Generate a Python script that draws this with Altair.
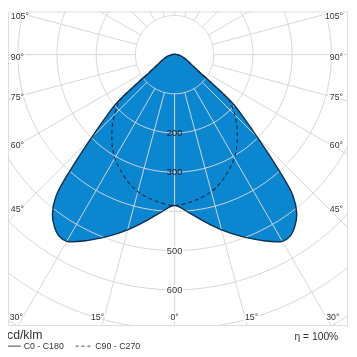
import altair as alt
import pandas as pd

# ---- data (cd/klm) ----
GAMMA = [0, 5, 10, 15, 20, 25, 30, 32.5, 35, 37.5, 40, 42.5, 45, 47.5, 50,
         52.5, 55, 60, 65, 70, 80, 90, 120, 150, 180]
C0_C180 = [385, 404, 432, 463, 493, 523, 550, 549, 535, 512, 470, 380, 300, 241, 195,
           118, 78, 48, 36, 27, 15, 7, 2, 1, 1]
C90_C270 = [385, 380, 372, 362, 346, 326, 305, 292, 278, 263, 248, 233, 217, 200, 182,
            115, 76, 47, 35, 26, 14, 7, 2, 1, 1]

CIRCLE_RADII = [100, 200, 300, 400, 500, 600, 700, 800]
RADIAL_ANGLES = list(range(0, 360, 15))
CIRCLE_LABELS_IN = [200, 300]
CIRCLE_LABELS_OUT = [500, 600]
ANGLE_LABELS = [0, 15, 30, 45, 60, 75, 90, 105]
LEGEND_LABELS = ["C0 - C180", "C90 - C270"]
UNIT_LABEL = "cd/klm"
EFF_LABEL = "η = 100%"

BLUE = "#0b86d1"
NAVY = "#0f2d4c"
GRID = "#d6d6d6"
TXT = "#333333"
FONT = "Liberation Sans"

W, H = 346, 320
xs = alt.Scale(domain=[-425, 440], nice=False, zero=False)
ys = alt.Scale(domain=[-690, 110], nice=False, zero=False)


def X(f="x"):
    return alt.X(f"{f}:Q", scale=xs, axis=None)


def Y(f="y"):
    return alt.Y(f"{f}:Q", scale=ys, axis=None)


# ---- curves ----
rows = []
for plane, vals in [("C0 - C180", C0_C180), ("C90 - C270", C90_C270)]:
    for side in (-1, 1):
        for g, v in zip(GAMMA, vals):
            if side < 0 and g == 0:
                continue
            rows.append(dict(plane=plane, side=side, g=g, I=v))
curves = pd.DataFrame(rows)

base_curve = alt.Chart(curves).transform_calculate(
    t="datum.side*datum.g",
    x="datum.side*datum.I*sin(datum.g*PI/180)",
    y="-datum.I*cos(datum.g*PI/180)",
)
solid = base_curve.transform_filter("datum.plane == 'C0 - C180'")
dashed = base_curve.transform_filter("datum.plane == 'C90 - C270'")

fill = solid.mark_line(fill=BLUE, strokeOpacity=0, interpolate="catmull-rom").encode(
    x=X(), y=Y(), order="t:Q")
outline = solid.mark_line(stroke=NAVY, strokeWidth=1.4, interpolate="catmull-rom").encode(
    x=X(), y=Y(), order="t:Q")
dash = dashed.mark_line(stroke=NAVY, strokeWidth=1.2, strokeDash=[4, 3],
                        interpolate="catmull-rom").encode(x=X(), y=Y(), order="t:Q")

# ---- polar grid ----
circ = pd.DataFrame([dict(r=r, a=a) for r in CIRCLE_RADII for a in range(0, 361, 2)])
circles = alt.Chart(circ).transform_calculate(
    x="datum.r*sin(datum.a*PI/180)", y="-datum.r*cos(datum.a*PI/180)"
).mark_line(color=GRID, strokeWidth=1, clip=True, blend="luminosity").encode(
    x=X(), y=Y(), detail="r:N", order="a:Q")

radials = alt.Chart(pd.DataFrame({"a": RADIAL_ANGLES})).transform_calculate(
    x="100*sin(datum.a*PI/180)", y="-100*cos(datum.a*PI/180)",
    x2="1200*sin(datum.a*PI/180)", y2="-1200*cos(datum.a*PI/180)",
).mark_rule(color=GRID, strokeWidth=1, clip=True, blend="luminosity").encode(
    x=X(), y=Y(), x2="x2:Q", y2="y2:Q")

# ---- labels ----
ang_rows = []
for g in ANGLE_LABELS:
    for side in ((1,) if g == 0 else (-1, 1)):
        ang_rows.append(dict(g=g, side=side, label=f"{g}°"))
ang = pd.DataFrame(ang_rows)


def text_pair(chart, align, size=9, halo=True, color=TXT, **enc):
    layers = []
    if halo:
        layers.append(chart.mark_text(align=align, baseline="middle", font=FONT, fontSize=size,
                                      stroke="white", strokeWidth=3, color="white").encode(**enc))
    layers.append(chart.mark_text(align=align, baseline="middle", font=FONT, fontSize=size,
                                  color=color).encode(**enc))
    return layers


side_base = alt.Chart(ang).transform_filter("datum.g >= 45").transform_calculate(
    x="datum.side < 0 ? -418 : 430",
    y="-390*cos(datum.g*PI/180)/sin(datum.g*PI/180) - 5")
bot_base = alt.Chart(ang).transform_filter("datum.g <= 30").transform_calculate(
    x="datum.side*670*tan(datum.g*PI/180)", y="-670")

enc = dict(x=X(), y=Y(), text="label:N")
label_layers = []
label_layers += text_pair(side_base.transform_filter("datum.side < 0"), "left", **enc)
label_layers += text_pair(side_base.transform_filter("datum.side > 0"), "right", **enc)
label_layers += text_pair(bot_base.transform_filter("datum.side < 0 && datum.g > 0"), "right", **enc)
label_layers += text_pair(bot_base.transform_filter("datum.side > 0 && datum.g > 0"), "left", **enc)
label_layers += text_pair(bot_base.transform_filter("datum.g == 0"), "center", **enc)

circ_in = alt.Chart(pd.DataFrame({"r": CIRCLE_LABELS_IN})).transform_calculate(
    x="0", y="-datum.r", label="'' + datum.r")
circ_out = alt.Chart(pd.DataFrame({"r": CIRCLE_LABELS_OUT})).transform_calculate(
    x="0", y="-datum.r", label="'' + datum.r")
label_layers += text_pair(circ_in, "center", size=9.5, halo=False, color="#1a1a1a", **enc)
label_layers += text_pair(circ_out, "center", size=9.5, **enc)

# ---- legend below frame (pixel offsets relative to the plot area) ----
leg = []
leg.append(alt.Chart(pd.DataFrame({"t": [UNIT_LABEL]})).mark_text(
    align="left", baseline="middle", font=FONT, fontSize=12.5, color=TXT
).encode(text="t:N", x=alt.value(-1), y=alt.value(330)))
leg.append(alt.Chart(pd.DataFrame({"t": [EFF_LABEL]})).mark_text(
    align="right", baseline="middle", font=FONT, fontSize=10.5, color=TXT
).encode(text="t:N", x=alt.value(337), y=alt.value(332)))
leg.append(alt.Chart(pd.DataFrame({"t": [LEGEND_LABELS[0]]})).mark_text(
    align="left", baseline="middle", font=FONT, fontSize=9, color=TXT
).encode(text="t:N", x=alt.value(16), y=alt.value(341.5)))
leg.append(alt.Chart(pd.DataFrame({"t": [LEGEND_LABELS[1]]})).mark_text(
    align="left", baseline="middle", font=FONT, fontSize=9, color=TXT
).encode(text="t:N", x=alt.value(89), y=alt.value(341.5)))
leg.append(alt.Chart(pd.DataFrame({"t": [LEGEND_LABELS[0]]})).mark_rule(
    color="#444", strokeWidth=1
).encode(x=alt.value(-2), x2=alt.value(13), y=alt.value(341.5)))
leg.append(alt.Chart(pd.DataFrame({"t": [LEGEND_LABELS[1]]})).mark_rule(
    color="#444", strokeWidth=1, strokeDash=[3, 3]
).encode(x=alt.value(69), x2=alt.value(85), y=alt.value(341.5)))

chart = alt.layer(
    fill, circles, radials, dash, outline, *label_layers, *leg
).properties(
    width=W, height=H,
    autosize=alt.AutoSizeParams(type="none"),
    padding={"left": 0, "top": 0, "right": 2, "bottom": 28},
).configure_view(stroke="#777777", strokeWidth=1).configure(background="white")

chart.save("out.html", embed_options={"renderer": "svg", "actions": False})
